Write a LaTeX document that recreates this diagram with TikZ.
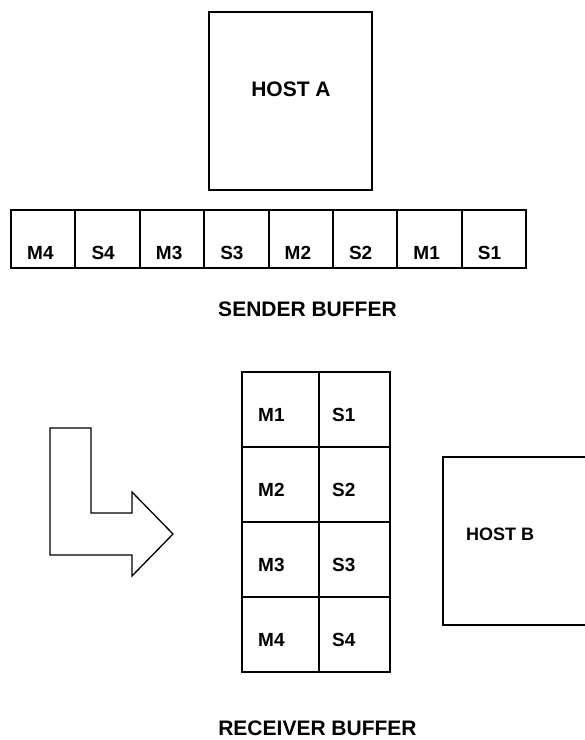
\documentclass[tikz,border=0pt]{standalone}
\usepackage{fontspec}
\setmainfont{Liberation Sans}
\usetikzlibrary{positioning,calc}

\begin{document}
\begin{tikzpicture}[x=1pt, y=-1pt,
        host/.style={rectangle, draw, line width=1.5pt, inner sep=0pt, outer sep=0pt},
        scell/.style={rectangle, draw, line width=2pt, minimum width=64.375pt, minimum height=58pt, inner sep=0pt, outer sep=0pt},
        rcell/.style={rectangle, draw, line width=2pt, minimum height=75pt, inner sep=0pt, outer sep=0pt},
        lbl/.style={font=\bfseries\fontsize{19}{22}\selectfont, inner sep=0pt, anchor=west},
        title/.style={font=\bfseries\fontsize{21}{25}\selectfont, inner sep=0pt}]

    \useasboundingbox (0,0) rectangle (585,740);
    \clip (0,0) rectangle (585,740);

    \node[host, minimum width=163pt, minimum height=178pt] (hostA) at (290.5,101) {};
    \node[title] (hostAtxt) at (291,89.5) {HOST A};

    % sender buffer
    \foreach \lab [count=\i] in {M4,S4,M3,S3,M2,S2,M1,S1} {
        \node[scell] (snd\i) at ({11+(\i-0.5)*64.375},239) {};
        \node[lbl] (sndl\i) at ($(snd\i.west)+(16,14)$) {\lab};
    }
    \node[title] (sendtxt) at (307.5,309.5) {SENDER BUFFER};

    % receiver buffer
    \foreach \i in {1,...,4} {
        \node[rcell, minimum width=77pt] (rm\i) at (280.5,{372+(\i-0.5)*75}) {};
        \node[rcell, minimum width=71pt] (rs\i) at (354.5,{372+(\i-0.5)*75}) {};
        \node[lbl] (rml\i) at ($(rm\i.north west)+(16,43)$) {M\i};
        \node[lbl] (rsl\i) at ($(rs\i.north west)+(13,43)$) {S\i};
    }
    \node[title] (recvtxt) at (317.5,728.5) {RECEIVER BUFFER};

    \node[host, minimum width=160pt, minimum height=168pt] (hostB) at (523,541) {};
    \node[lbl, font=\bfseries\fontsize{18}{21}\selectfont] (hostBtxt) at (466,534) {HOST B};

    \draw[line width=1.3pt, line join=miter] (50,428) -- (91,428) -- (91,513) -- (132,513) -- (132,492)
        -- (173,534) -- (132,576) -- (132,555) -- (50,555) -- cycle;
\end{tikzpicture}
\end{document}
